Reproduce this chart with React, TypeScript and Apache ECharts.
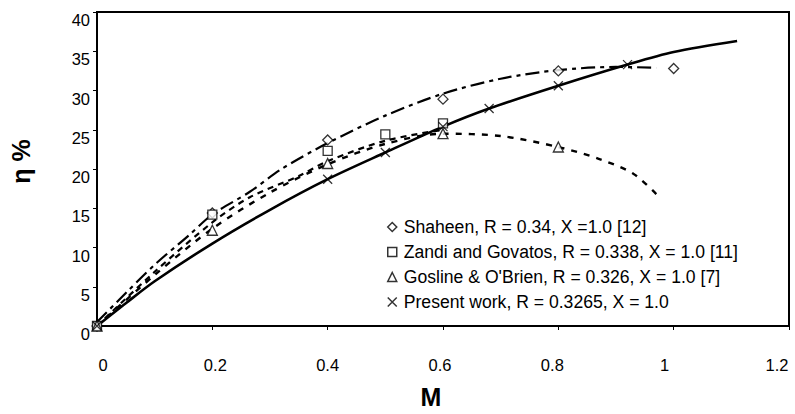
import React, { useEffect, useRef } from "react";
import * as echarts from "echarts";

// Curves (M, η %)
const shaheenCurveM = [0, 0.05, 0.1, 0.16, 0.2, 0.265, 0.32, 0.4, 0.5, 0.6, 0.7, 0.8, 0.9, 0.97];
const shaheenCurveEta = [0.5, 4.2, 7.8, 11.6, 14.2, 17.1, 20.0, 23.3, 26.8, 29.6, 31.5, 32.6, 33.0, 32.9];
const zandiCurveM = [0, 0.1, 0.2, 0.265, 0.35, 0.4, 0.5, 0.6];
const zandiCurveEta = [0, 6.9, 13.2, 16.4, 19.1, 21.0, 23.6, 25.0];
const goslineCurveM = [0, 0.1, 0.2, 0.3, 0.4, 0.5, 0.6, 0.7, 0.8, 0.87, 0.93, 0.97];
const goslineCurveEta = [0, 6.5, 12.4, 17.0, 20.6, 23.2, 24.5, 24.2, 22.8, 21.3, 19.4, 16.8];
const presentCurveM = [0, 0.05, 0.1, 0.2, 0.3, 0.4, 0.5, 0.6, 0.68, 0.8, 0.92, 1.0, 1.11];
const presentCurveEta = [0, 2.9, 5.7, 10.5, 14.8, 18.7, 22.1, 25.4, 27.7, 30.6, 33.3, 34.9, 36.3];

// Markers
const shaheenM = [0, 0.2, 0.4, 0.6, 0.8, 1.0];
const shaheenEta = [0, 14.4, 23.7, 28.9, 32.5, 32.8];
const zandiM = [0, 0.2, 0.4, 0.5, 0.6];
const zandiEta = [0, 14.2, 22.3, 24.4, 25.8];
const goslineM = [0, 0.2, 0.4, 0.6, 0.8];
const goslineEta = [0, 12.2, 20.7, 24.5, 22.8];
const presentM = [0, 0.4, 0.5, 0.6, 0.68, 0.8, 0.92];
const presentEta = [0, 18.7, 22.1, 25.4, 27.7, 30.6, 33.3];

const names = [
  "Shaheen, R = 0.34, X =1.0 [12]",
  "Zandi and Govatos, R = 0.338, X = 1.0 [11]",
  "Gosline & O'Brien, R = 0.326, X = 1.0 [7]",
  "Present work, R = 0.3265, X = 1.0",
];

const xTicks = { min: 0, max: 1.2, interval: 0.2 };
const yTicks = { min: 0, max: 40, interval: 5 };

const FONT = "'Liberation Sans', Arial, sans-serif";
const CROSS = "path://M0,0L10,10M10,0L0,10";

const zip = (a: number[], b: number[]) => a.map((v, i) => [v, b[i]]);

export default function App() {
  const ref = useRef<HTMLDivElement>(null);
  useEffect(() => {
    if (!ref.current) return;
    const chart = echarts.init(ref.current, undefined, { renderer: "svg" });
    const markerStyle = { color: "#fff", borderColor: "#000", borderWidth: 1.3 };
    const curve = (name: string, m: number[], e: number[], type: any, width: number) => ({
      type: "line",
      name: name + " (curve)",
      data: zip(m, e),
      smooth: 0.3,
      symbol: "none",
      lineStyle: { color: "#000", width, type },
      z: 2,
    });
    const markers = (name: string, m: number[], e: number[], symbol: string, size: number) => ({
      type: "scatter",
      name,
      data: zip(m, e),
      symbol,
      symbolSize: size,
      itemStyle: markerStyle,
      z: 3,
    });
    chart.setOption({
      animation: false,
      backgroundColor: "#fff",
      textStyle: { fontFamily: FONT },
      grid: [
        {
          left: 97,
          top: 12,
          width: 692,
          height: 321,
          show: true,
          borderColor: "#000",
          borderWidth: 2,
        },
        // label-only grid for the M tick labels (slightly different spacing in the original)
        { left: 103, top: 12, width: 674, height: 321, show: false },
      ],
      xAxis: [
        {
          type: "value",
          gridIndex: 0,
          ...xTicks,
          name: "M",
          nameLocation: "middle",
          nameGap: 58,
          nameTextStyle: { fontSize: 25, fontWeight: "bold", color: "#000", fontFamily: FONT, padding: [0, 24, 0, 0] },
          axisLine: { lineStyle: { color: "#000", width: 2 } },
          axisTick: { show: true, length: 4, lineStyle: { color: "#000" } },
          axisLabel: { show: false },
          splitLine: { show: false },
        },
        {
          type: "value",
          gridIndex: 1,
          ...xTicks,
          axisLine: { show: false },
          axisTick: { show: false },
          axisLabel: { color: "#000", fontSize: 16.5, margin: 23, fontFamily: FONT },
          splitLine: { show: false },
        },
      ],
      yAxis: [
        {
          type: "value",
          gridIndex: 0,
          ...yTicks,
          name: "η %",
          nameLocation: "middle",
          nameGap: 64,
          nameTextStyle: { fontSize: 25, fontWeight: "bold", color: "#000", fontFamily: FONT, padding: [0, 0, 0, 15] },
          axisLine: { show: true, lineStyle: { color: "#000", width: 2 } },
          axisTick: { show: true, length: 4, lineStyle: { color: "#000" } },
          axisLabel: { color: "#000", fontSize: 16.5, margin: 7, fontFamily: FONT, verticalAlign: "top", lineHeight: 16 },
          splitLine: { show: false },
        },
        {
          type: "value",
          gridIndex: 1,
          ...yTicks,
          show: false,
        },
      ],
      legend: {
        orient: "vertical",
        left: 387,
        top: 218,
        padding: 0,
        itemWidth: 9,
        itemHeight: 9,
        itemGap: 7,
        textStyle: { fontSize: 17.6, lineHeight: 18, color: "#000", fontFamily: FONT, padding: [0, 0, 0, 2] },
        data: [
          { name: names[0], icon: "diamond" },
          { name: names[1], icon: "rect", itemStyle: { color: "#fff", borderColor: "#000", borderWidth: 1.5 } },
          { name: names[2], icon: "triangle" },
          { name: names[3], icon: CROSS },
        ],
        itemStyle: { color: "#fff", borderColor: "#000", borderWidth: 1.5 },
      },
      series: [
        curve(names[0], shaheenCurveM, shaheenCurveEta, [14, 5, 4, 5], 2.2),
        curve(names[1], zandiCurveM, zandiCurveEta, [6, 5], 2.2),
        curve(names[2], goslineCurveM, goslineCurveEta, [6, 7], 2.4),
        curve(names[3], presentCurveM, presentCurveEta, "solid", 2.6),
        markers(names[0], shaheenM, shaheenEta, "diamond", 10),
        markers(names[1], zandiM, zandiEta, "rect", 9),
        markers(names[2], goslineM, goslineEta, "triangle", 10),
        markers(names[3], presentM, presentEta, CROSS, 9),
      ],
    });
    return () => chart.dispose();
  }, []);
  return <div ref={ref} style={{ width: 795, height: 414, position: "absolute", left: 0, top: 0 }} />;
}
